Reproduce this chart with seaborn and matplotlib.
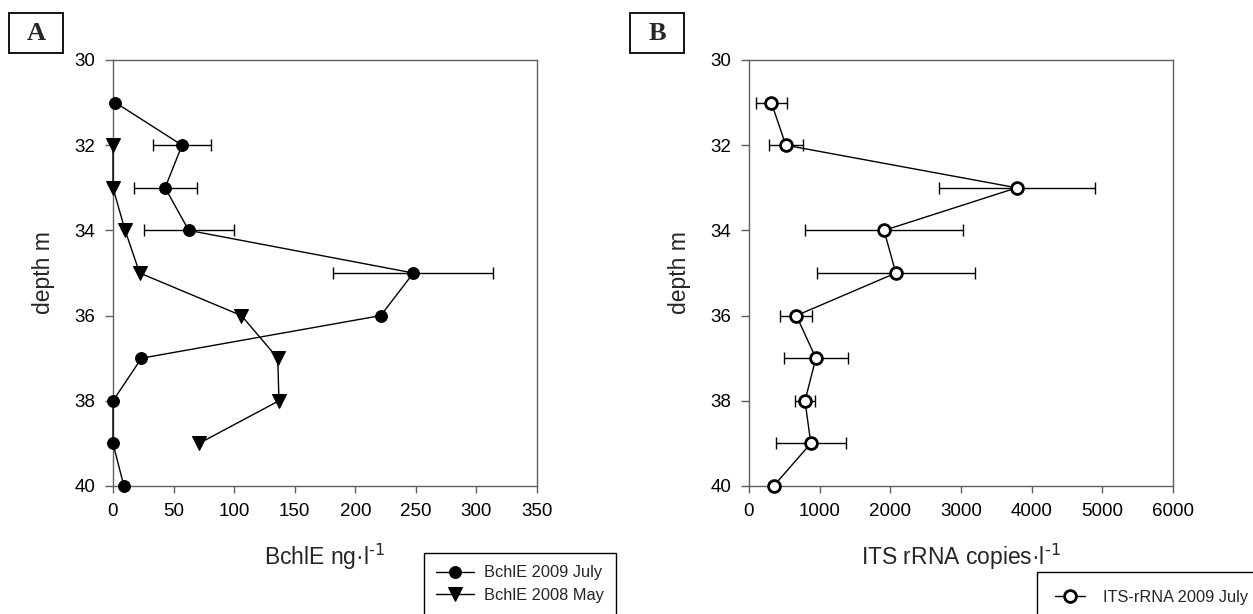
import numpy as np
import pandas as pd
import matplotlib
matplotlib.use("Agg")
import matplotlib.pyplot as plt
from matplotlib.patches import Rectangle
import seaborn as sns

# ---------------- data ----------------
depth_july = [31, 32, 33, 34, 35, 36, 37, 38, 39, 40]
bchle_july = [2, 57, 43, 62.5, 248, 221, 23.5, 0, 0, 9]
bchle_july_err = [0, 24, 26, 37, 66, 0, 0, 0, 0, 0]

depth_may = [32, 33, 34, 35, 36, 37, 38, 39]
bchle_may = [0, 0, 10, 22, 106, 136, 137, 71]

depth_its = [31, 32, 33, 34, 35, 36, 37, 38, 39, 40]
its_july = [316, 521, 3789, 1911, 2078, 670, 947, 792, 875, 349]
its_july_err = [218, 238, 1105, 1119, 1119, 225, 450, 136, 493, 0]

label_july = "BchlE 2009 July"
label_may = "BchlE 2008 May"
label_its = "ITS-rRNA 2009 July"

xticks_a = [0, 50, 100, 150, 200, 250, 300, 350]
xticks_b = [0, 1000, 2000, 3000, 4000, 5000, 6000]
yticks = [30, 32, 34, 36, 38, 40]

# ---------------- style ----------------
sns.set_style("ticks")
plt.rcParams["font.family"] = ["Liberation Sans", "DejaVu Sans"]
plt.rcParams["mathtext.default"] = "regular"

W, H = 1253, 614
fig = plt.figure(figsize=(W / 100, H / 100), dpi=100)
fig.patch.set_facecolor("white")

axA = fig.add_axes([113 / W, (H - 486) / H, 424 / W, 426 / H])
axB = fig.add_axes([749 / W, (H - 486) / H, 424 / W, 426 / H])

spine_col = "#606060"

df_july = pd.DataFrame({"depth": depth_july, "val": bchle_july, "err": bchle_july_err})
df_may = pd.DataFrame({"depth": depth_may, "val": bchle_may})
df_its = pd.DataFrame({"depth": depth_its, "val": its_july, "err": its_july_err})

# Panel A
sns.lineplot(data=df_july, x="val", y="depth", orient="y", sort=False, estimator=None,
             ax=axA, color="black", linewidth=1.0, marker="o", markersize=8.5,
             markeredgecolor="black", markerfacecolor="black", label=label_july,
             legend=False, zorder=3, clip_on=False)
sns.lineplot(data=df_may, x="val", y="depth", orient="y", sort=False, estimator=None,
             ax=axA, color="black", linewidth=1.0, marker="v", markersize=9.5,
             markeredgecolor="black", markerfacecolor="black", label=label_may,
             legend=False, zorder=3, clip_on=False)
m = df_july["err"] > 0
axA.errorbar(df_july.loc[m, "val"], df_july.loc[m, "depth"], xerr=df_july.loc[m, "err"],
             fmt="none", ecolor="black", elinewidth=1.0, capsize=4.3, capthick=1.0, zorder=2)

# Panel B
sns.lineplot(data=df_its, x="val", y="depth", orient="y", sort=False, estimator=None,
             ax=axB, color="black", linewidth=1.0, marker="o", markersize=8.5,
             markeredgecolor="black", markerfacecolor="white", markeredgewidth=2.0,
             label=label_its, legend=False, zorder=3, clip_on=False)
m = df_its["err"] > 0
axB.errorbar(df_its.loc[m, "val"], df_its.loc[m, "depth"], xerr=df_its.loc[m, "err"],
             fmt="none", ecolor="black", elinewidth=1.0, capsize=4.3, capthick=1.0, zorder=2)

for ax, xt, xl in [(axA, xticks_a, r"BchlE ng·l$^{\text{-1}}$"),
                   (axB, xticks_b, r"ITS rRNA copies·l$^{\text{-1}}$")]:
    ax.set_xlim(xt[0], xt[-1])
    ax.set_ylim(40, 30)
    ax.set_xticks(xt)
    ax.set_yticks(yticks)
    ax.set_xticklabels([str(v) for v in xt])
    ax.set_yticklabels([str(v) for v in yticks])
    for s in ax.spines.values():
        s.set_visible(True)
        s.set_color(spine_col)
        s.set_linewidth(1.0)
        s.set_zorder(1)
    ax.tick_params(axis="both", direction="out", color=spine_col, width=1.0,
                   labelsize=13.5, labelcolor="black", pad=7)
    ax.tick_params(axis="y", length=5.8)
    ax.tick_params(axis="x", length=5.0)
    ax.set_xlabel(xl, fontsize=16.5, labelpad=16)
    ax.set_ylabel("depth m", fontsize=16.5, labelpad=14)
    ax.set_facecolor("white")

# Legends
hA, lA = axA.get_legend_handles_labels()
legA = fig.legend(hA, lA, loc="upper left", bbox_to_anchor=(424 / W, 1 - 553 / H),
                  bbox_transform=fig.transFigure, borderaxespad=0, fontsize=11.8,
                  frameon=True, fancybox=False, edgecolor="black", framealpha=1,
                  borderpad=0.75, handlelength=2.3, handletextpad=0.6, labelspacing=0.45)
legA.get_frame().set_linewidth(1.0)

hB, lB = axB.get_legend_handles_labels()
legB = fig.legend(hB, lB, loc="upper left", bbox_to_anchor=(1037 / W, 1 - 572 / H),
                  bbox_transform=fig.transFigure, borderaxespad=0, fontsize=11.8,
                  frameon=True, fancybox=False, edgecolor="black", framealpha=1,
                  borderpad=1.1, handlelength=1.85, handletextpad=1.1, labelspacing=0.3)
legB.get_frame().set_linewidth(1.0)

# Panel letters in boxes
for (x0, x1, y0, y1, txt) in [(9, 63, 13, 53, "A"), (630, 684, 13, 53, "B")]:
    rect = Rectangle((x0 / W, 1 - y1 / H), (x1 - x0) / W, (y1 - y0) / H,
                     transform=fig.transFigure, fill=False, edgecolor="black", linewidth=1.3)
    fig.patches.append(rect)
    fig.text((x0 + x1) / 2 / W, 1 - (y0 + y1) / 2 / H, txt, ha="center", va="center",
             fontsize=19, fontweight="bold", family=["Liberation Serif", "DejaVu Serif"])

fig.savefig("out.png", dpi=100, facecolor="white")
